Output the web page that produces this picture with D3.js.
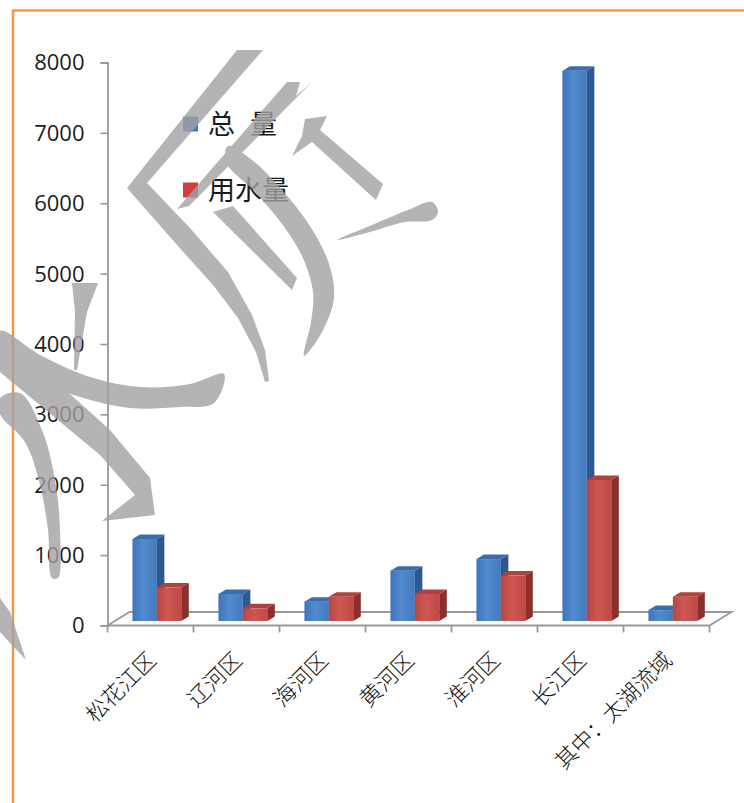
<!DOCTYPE html>
<html>
<head>
<meta charset="utf-8">
<script src="https://cdn.jsdelivr.net/npm/d3@7"></script>
<style>
  body { margin: 0; background: #fff; }
  svg { display: block; }
</style>
</head>
<body>
<svg id="chart" width="744" height="803"></svg>
<script>
// ---- data -------------------------------------------------------------
const categories = ["松花江区", "辽河区", "海河区", "黄河区", "淮河区", "长江区", "其中：太湖流域"];
const totalVolume = [1165, 385, 275, 715, 880, 7820, 155];   // 总 量
const waterUse    = [475, 180, 345, 385, 645, 2005, 345];    // 用水量
const seriesNames = ["总 量", "用水量"];
const yTickValues = [0, 1000, 2000, 3000, 4000, 5000, 6000, 7000, 8000];

// ---- layout ----------------------------------------------------------
const W = 744, H = 803;
const svg = d3.select("#chart");
const plot = { left: 107.5, right: 709.5, top: 62.5, floor: 625.5 };
const floorDepth = { dx: 22, dy: -13.5 };
const barDepth = { dx: 7.5, dy: -4.5 };
const barInset = 4.5;                       // bars stand behind the front plane

const y = d3.scaleLinear().domain([0, 8000]).range([plot.floor, plot.top]);
const x = d3.scaleBand().domain(categories).range([plot.left, plot.right]);
const barW = x.bandwidth() * 0.284;
const barStart = x.bandwidth() * 0.29;

const palette = {
  "总 量":  { key: "#3f7ccc", front: ["#3f74b8", "#528bcf", "#4479bd"], top: "#3d6cad", side: "#2e5890" },
  "用水量": { key: "#cf3f3c", front: ["#bb4541", "#cd5753", "#c04945"], top: "#b0413d", side: "#8a2f2c" }
};

// frame
svg.append("rect").attr("width", W).attr("height", H).attr("fill", "#fff");
svg.append("path")
  .attr("d", `M13,${H} V10.5 H${W}`)
  .attr("fill", "none").attr("stroke", "#f39a4a").attr("stroke-width", 2.5);

// gradients for the bar fronts
const defs = svg.append("defs");
seriesNames.forEach((s, i) => {
  const g = defs.append("linearGradient").attr("id", "front" + i)
    .attr("x1", "0%").attr("x2", "100%").attr("y1", "0%").attr("y2", "0%");
  g.append("stop").attr("offset", "0%").attr("stop-color", palette[s].front[0]);
  g.append("stop").attr("offset", "45%").attr("stop-color", palette[s].front[1]);
  g.append("stop").attr("offset", "100%").attr("stop-color", palette[s].front[2]);
});

// ---- floor ------------------------------------------------------------
const axisColor = "#999";
const floor = svg.append("g").attr("fill", "none").attr("stroke", axisColor).attr("stroke-width", 1.8);
floor.append("path").attr("d",
  `M${plot.left},${plot.floor} L${plot.right},${plot.floor}
   L${plot.right + floorDepth.dx},${plot.floor + floorDepth.dy}
   L${plot.left + floorDepth.dx},${plot.floor + floorDepth.dy} Z`);

// category ticks under the floor
const edges = categories.map(c => x(c)).concat([x(categories[categories.length - 1]) + x.bandwidth()]);
floor.selectAll("line.ct").data(edges).join("line")
  .attr("x1", d => d).attr("x2", d => d)
  .attr("y1", plot.floor).attr("y2", plot.floor + 7);

// ---- value axis ---------------------------------------------------------
const yAxis = d3.axisLeft(y).tickValues(yTickValues).tickSize(7).tickPadding(16)
  .tickFormat(d3.format("d"));
const yg = svg.append("g").attr("transform", `translate(${plot.left},0)`).call(yAxis);
yg.select(".domain").attr("stroke", axisColor).attr("stroke-width", 1.8);
yg.selectAll(".tick line").attr("stroke", axisColor).attr("stroke-width", 1.6);
yg.selectAll(".tick text")
  .attr("font-family", "'Open Sans', 'DejaVu Sans', sans-serif")
  .attr("font-size", 22).attr("font-weight", 500).attr("fill", "#1c1c1c").attr("dy", "0.34em");

// ---- 3D columns -------------------------------------------------------------
const rows = categories.map((c, i) => ({ cat: c, values: [totalVolume[i], waterUse[i]] }));
const bars = svg.append("g");
rows.forEach(row => {
  row.values.forEach((v, si) => {
    const s = seriesNames[si];
    const x0 = x(row.cat) + barStart + si * barW;
    const x1 = x0 + barW;
    const yb = y(0) - barInset;
    const yt = y(v) - barInset;
    const g = bars.append("g");
    g.append("rect").attr("x", x0).attr("y", yt).attr("width", barW).attr("height", yb - yt)
      .attr("fill", `url(#front${si})`);
    g.append("path").attr("fill", palette[s].top).attr("d",
      `M${x0},${yt} L${x0 + barDepth.dx},${yt + barDepth.dy} L${x1 + barDepth.dx},${yt + barDepth.dy} L${x1},${yt} Z`);
    g.append("path").attr("fill", palette[s].side).attr("d",
      `M${x1},${yt} L${x1 + barDepth.dx},${yt + barDepth.dy} L${x1 + barDepth.dx},${yb + barDepth.dy} L${x1},${yb} Z`);
  });
});

// ---- category labels --------------------------------------------------------
svg.append("g").selectAll("text").data(categories).join("text")
  .attr("transform", d => `translate(${x(d) + x.bandwidth() / 2 + 7},${plot.floor + 36}) rotate(-45)`)
  .attr("text-anchor", "end")
  .attr("font-family", "'Noto Sans CJK SC', sans-serif")
  .attr("font-size", 22).attr("font-weight", 300).attr("fill", "#111")
  .text(d => d);

// ---- legend ------------------------------------------------------------------
const legend = svg.append("g").attr("transform", "translate(183,0)");
const legendY = [124, 190];
seriesNames.forEach((s, i) => {
  legend.append("rect").attr("x", 0).attr("y", legendY[i] - 7.5).attr("width", 15).attr("height", 15)
    .attr("fill", palette[s].key);
  legend.append("text").attr("x", 25).attr("y", legendY[i]).attr("dy", "0.36em")
    .attr("font-family", "'Noto Sans CJK SC', sans-serif")
    .attr("font-size", 27).attr("fill", "#1a1a1a")
    .attr("word-spacing", 9)
    .style("white-space", "pre")
    .text(s);
});

// ---- brush-stroke seal laid over the chart -------------------------------------
// each stroke: outline points and whether its edges are curved
const sealStrokes = [
  { smooth: false, pts: [[237,50],[263,50],[147,183],[190,228],[228,272],[252,315],[265,350],[269,381],[265,382],[256,352],[238,318],[213,285],[178,246],[127,188]] },
  { smooth: false, pts: [[287,82],[300,82],[296,96],[312,82],[189,206],[177,209]] },
  { smooth: false, pts: [[213,212],[233,206],[297,278],[292,290]] },
  { smooth: true,  pts: [[228,146],[252,160],[282,190],[310,226],[329,264],[334,298],[322,332],[304,356],[311,322],[313,292],[302,256],[282,224],[255,192],[226,162]] },
  { smooth: false, pts: [[305,119],[327,116],[320,130],[383,184],[376,200],[312,142],[292,156],[302,136]] },
  { smooth: true,  pts: [[337,240],[372,225],[408,210],[432,202],[438,212],[432,220],[405,222],[370,232]] },
  { smooth: false, pts: [[72,283],[98,283],[87,312],[77,370],[74,370],[75,312]] },
  { smooth: true,  pts: [[0,331],[40,355],[90,377],[140,387],[190,384],[224,374],[214,403],[180,407],[130,408],[80,397],[30,377],[0,361]] },
  { smooth: false, pts: [[0,345],[30,358],[110,430],[150,478],[155,515],[102,521],[135,495],[100,455],[0,372]] },
  { smooth: true,  pts: [[0,398],[20,393],[42,430],[55,480],[60,530],[58,578],[52,578],[48,530],[40,485],[25,442],[0,414]] },
  { smooth: false, pts: [[0,598],[10,612],[26,660],[0,632]] }
];
const sharpLine = d3.line().curve(d3.curveLinearClosed);
const softLine = d3.line().curve(d3.curveCatmullRomClosed.alpha(0.5));
svg.append("g").attr("fill", "#a3a1a3").attr("opacity", 0.8)
  .selectAll("path").data(sealStrokes).join("path")
  .attr("d", d => (d.smooth ? softLine : sharpLine)(d.pts));
</script>
</body>
</html>
